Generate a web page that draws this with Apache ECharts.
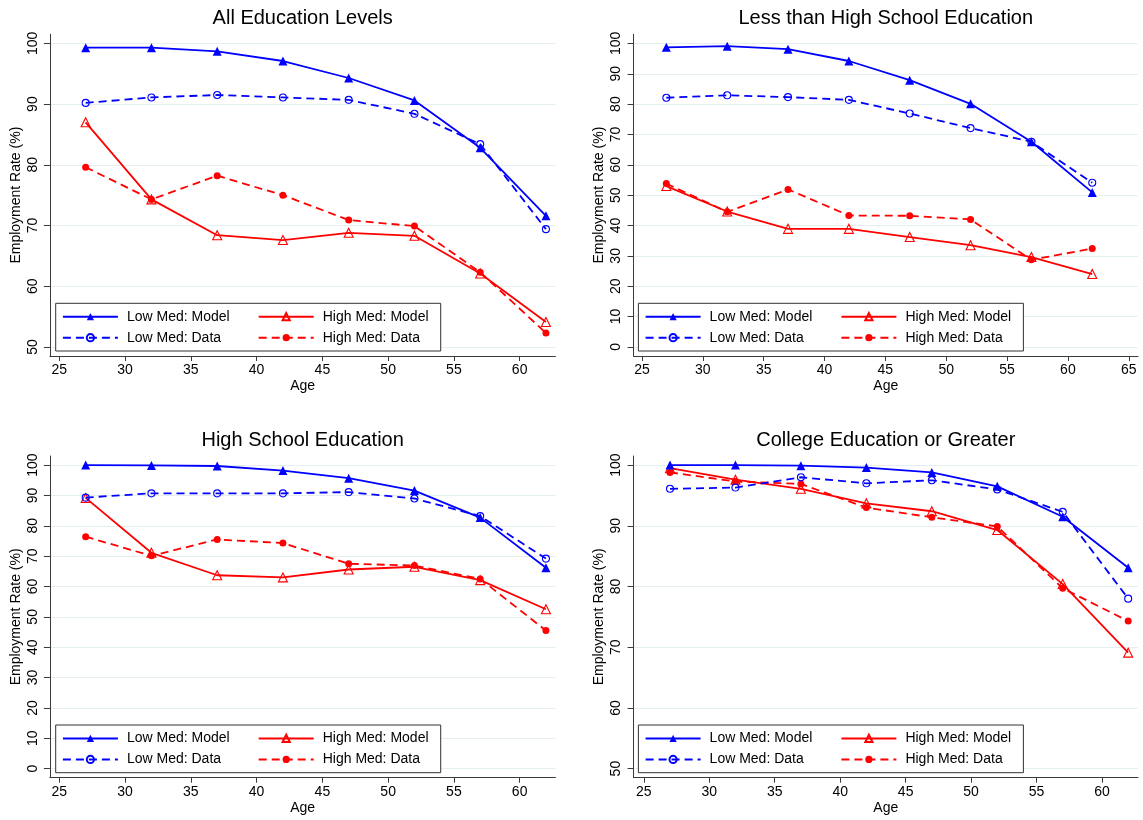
<!DOCTYPE html>
<html>
<head>
<meta charset="utf-8">
<script src="https://cdn.jsdelivr.net/npm/echarts@6/dist/echarts.min.js"></script>
<style>
  html, body { margin: 0; padding: 0; background: #ffffff; }
  #chart { width: 1143px; height: 820px; }
</style>
</head>
<body>
<div id="chart"></div>
<script>
// Ages at which employment rates are reported
const ages = [27, 32, 37, 42, 47, 52, 57, 62];

const seriesNames = ['Low Med: Model', 'Low Med: Data', 'High Med: Model', 'High Med: Data'];
const panelTitles = ['All Education Levels', 'Less than High School Education',
                     'High School Education', 'College Education or Greater'];

// Tick labels
const xTicksTo60 = [25, 30, 35, 40, 45, 50, 55, 60];
const xTicksTo65 = [25, 30, 35, 40, 45, 50, 55, 60, 65];
const yTicks50 = [50, 60, 70, 80, 90, 100];
const yTicks0 = [0, 10, 20, 30, 40, 50, 60, 70, 80, 90, 100];

// All education levels (%)
const allLowModel  = [99.3, 99.3, 98.7, 97.1, 94.3, 90.6, 82.8, 71.6];
const allLowData   = [90.2, 91.1, 91.5, 91.1, 90.7, 88.4, 83.4, 69.4];
const allHighModel = [87.0, 74.3, 68.4, 67.6, 68.8, 68.3, 62.1, 54.1];
const allHighData  = [79.6, 74.3, 78.2, 75.0, 70.9, 69.9, 62.3, 52.3];

// Less than high school (%)
const lhsLowModel  = [98.7, 99.1, 98.1, 94.2, 87.9, 80.1, 67.6, 50.9];
const lhsLowData   = [82.1, 82.9, 82.3, 81.4, 76.9, 72.1, 67.6, 54.1];
const lhsHighModel = [53.0, 44.6, 38.9, 38.9, 36.2, 33.5, 29.6, 24.0];
const lhsHighData  = [53.8, 44.5, 51.9, 43.3, 43.2, 42.0, 28.7, 32.4];

// High school (%)
const hsLowModel  = [100.0, 99.9, 99.7, 98.2, 95.7, 91.6, 82.7, 66.2];
const hsLowData   = [89.3, 90.7, 90.7, 90.7, 91.1, 89.0, 83.2, 69.2];
const hsHighModel = [89.2, 71.1, 63.7, 63.0, 65.6, 66.5, 62.1, 52.5];
const hsHighData  = [76.4, 70.1, 75.5, 74.3, 67.5, 66.9, 62.5, 45.5];

// College or greater (%)
const colLowModel  = [100.0, 100.0, 99.9, 99.6, 98.8, 96.5, 91.5, 83.1];
const colLowData   = [96.1, 96.3, 98.0, 97.0, 97.5, 96.0, 92.3, 78.0];
const colHighModel = [99.5, 97.6, 96.1, 93.7, 92.4, 89.3, 80.4, 69.1];
const colHighData  = [98.8, 97.3, 96.9, 93.0, 91.4, 89.9, 79.7, 74.3];

const FONT = '"Liberation Sans", Arial, Helvetica, sans-serif';
const BLUE = '#0000ff';
const RED = '#ff0000';
const AXIS = '#3a3a3a';
const GRID = '#e5eef0';

const seriesStyles = [
  { color: BLUE, type: 'solid', symbol: 'triangle', size: 9, filled: true },
  { color: BLUE, type: [8, 5],  symbol: 'circle',   size: 7, filled: false },
  { color: RED,  type: 'solid', symbol: 'triangle', size: 9, filled: false },
  { color: RED,  type: [8, 5],  symbol: 'circle',   size: 7, filled: true }
];

const panels = [
  { values: [allLowModel, allLowData, allHighModel, allHighData],
    grid: { left: 49.9, top: 34.3, width: 505.5, height: 321.7 },
    xRange: [24.28, 62.72], xTicks: xTicksTo60, yRange: [48.5, 101.5], yTicks: yTicks50,
    legend: { left: 55.7, top: 303.3 } },
  { values: [lhsLowModel, lhsLowData, lhsHighModel, lhsHighData],
    grid: { left: 633.6, top: 34.3, width: 504.4, height: 321.7 },
    xRange: [24.31, 65.76], xTicks: xTicksTo65, yRange: [-3, 103], yTicks: yTicks0,
    legend: { left: 638.4, top: 303.3 } },
  { values: [hsLowModel, hsLowData, hsHighModel, hsHighData],
    grid: { left: 49.9, top: 456, width: 505.5, height: 321.7 },
    xRange: [24.28, 62.72], xTicks: xTicksTo60, yRange: [-3, 103], yTicks: yTicks0,
    legend: { left: 55.7, top: 725 } },
  { values: [colLowModel, colLowData, colHighModel, colHighData],
    grid: { left: 633.6, top: 456, width: 504.4, height: 321.7 },
    xRange: [24.22, 62.75], xTicks: xTicksTo60, yRange: [48.5, 101.5], yTicks: yTicks50,
    legend: { left: 638.4, top: 725 } }
];

const option = {
  animation: false,
  backgroundColor: '#ffffff',
  textStyle: { fontFamily: FONT },
  title: [], grid: [], xAxis: [], yAxis: [], legend: [], series: []
};

panels.forEach((p, i) => {
  const g = p.grid;
  option.grid.push({ left: g.left, top: g.top, width: g.width, height: g.height, containLabel: false });

  option.title.push({
    text: panelTitles[i],
    left: g.left + g.width / 2,
    top: g.top - 25.5,
    textAlign: 'center',
    padding: 0,
    textStyle: { fontFamily: FONT, fontSize: 20, fontWeight: 'normal', color: '#000', lineHeight: 20 }
  });

  option.xAxis.push({
    type: 'value', gridIndex: i, min: p.xRange[0], max: p.xRange[1],
    name: 'Age', nameLocation: 'middle', nameGap: 23,
    nameTextStyle: { fontFamily: FONT, fontSize: 14, color: '#000' },
    axisLine: { show: true, onZero: false, lineStyle: { color: AXIS, width: 1 } },
    axisTick: { show: true, length: 5, customValues: p.xTicks, lineStyle: { color: AXIS, width: 1 } },
    axisLabel: { customValues: p.xTicks, margin: 7, fontFamily: FONT, fontSize: 14, color: '#000' },
    splitLine: { show: false }
  });

  option.yAxis.push({
    type: 'value', gridIndex: i, min: p.yRange[0], max: p.yRange[1],
    name: 'Employment Rate (%)', nameLocation: 'middle', nameGap: 27, nameRotate: 90,
    nameTextStyle: { fontFamily: FONT, fontSize: 14, color: '#000' },
    axisLine: { show: true, onZero: false, lineStyle: { color: AXIS, width: 1 } },
    axisTick: { show: true, length: 6, customValues: p.yTicks, lineStyle: { color: AXIS, width: 1 } },
    axisLabel: { customValues: p.yTicks, rotate: 90, margin: 10, fontFamily: FONT, fontSize: 14, color: '#000' },
    splitLine: { show: true, lineStyle: { color: GRID, width: 1 } }
  });

  option.legend.push({
    left: p.legend.left, top: p.legend.top,
    orient: 'horizontal', width: 380,
    data: [seriesNames[0], seriesNames[2], seriesNames[1], seriesNames[3]],
    itemWidth: 55, itemHeight: 9, itemGap: 7,
    padding: [6.4, 8, 6.3, 6.2],
    borderColor: '#333', borderWidth: 1, backgroundColor: '#fff',
    selectedMode: false,
    formatter: name => (name.indexOf('Low') === 0 ? '{a|' + name + '}' : '{b|' + name + '}'),
    textStyle: {
      fontFamily: FONT, fontSize: 14, color: '#000', lineHeight: 14, padding: [0, 0, 0, 4],
      rich: {
        a: { width: 123.8, fontFamily: FONT, fontSize: 14, lineHeight: 14, color: '#000' },
        b: { width: 110, fontFamily: FONT, fontSize: 14, lineHeight: 14, color: '#000' }
      }
    }
  });

  p.values.forEach((vals, k) => {
    const s = seriesStyles[k];
    option.series.push({
      type: 'line', name: seriesNames[k], xAxisIndex: i, yAxisIndex: i,
      data: ages.map((a, j) => [a, vals[j]]),
      symbol: s.symbol, symbolSize: s.size, showSymbol: true,
      lineStyle: { color: s.color, width: 1.8, type: s.type },
      itemStyle: s.filled
        ? { color: s.color, borderColor: s.color, borderWidth: 0 }
        : { color: 'rgba(255,255,255,0)', borderColor: s.color, borderWidth: 1.1 },
      emphasis: { disabled: true },
      z: 2 + (3 - k)
    });
  });
});

const chart = echarts.init(document.getElementById('chart'), null, { renderer: 'canvas' });
chart.setOption(option);
</script>
</body>
</html>
